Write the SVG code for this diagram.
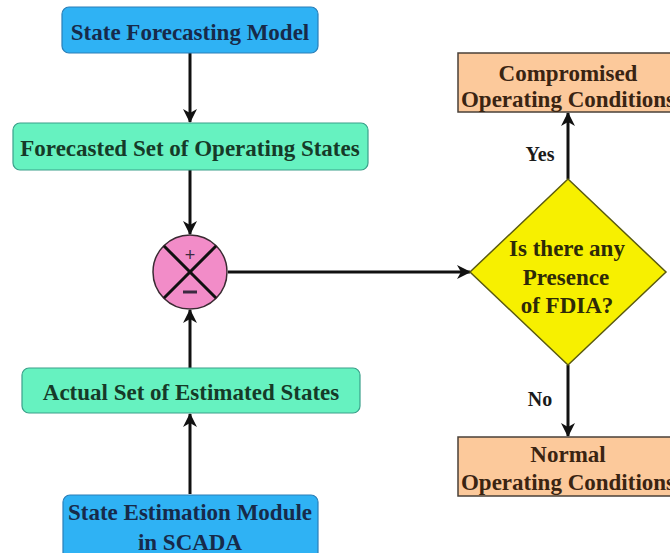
<svg xmlns="http://www.w3.org/2000/svg" width="670" height="553" viewBox="0 0 670 553">
<defs>
<marker id="arr" viewBox="0 0 14 14" refX="13" refY="7" markerWidth="14" markerHeight="14" markerUnits="userSpaceOnUse" orient="auto">
<path d="M0,0 L14,7 L0,14 L4,7 Z" fill="#111"/>
</marker>
<style>
.t{font-family:"Liberation Serif","Times New Roman",serif;font-weight:bold;font-size:23px;text-anchor:middle}
.blue{fill:#2fb2f4;stroke:#2a7fb8;stroke-width:1.2}
.mint{fill:#66f2c0;stroke:#3aa08a;stroke-width:1.2}
.peach{fill:#fcc99b;stroke:#4a4038;stroke-width:1.5}
.c{stroke:#111;stroke-width:3;fill:none}
</style>
</defs>
<rect width="670" height="553" fill="#fff"/>
<g id="connectors">
<line class="c" x1="190" y1="53" x2="190" y2="122" marker-end="url(#arr)"/>
<line class="c" x1="190" y1="170" x2="190" y2="234" marker-end="url(#arr)"/>
<line class="c" x1="190" y1="494" x2="190" y2="414" marker-end="url(#arr)"/>
<line class="c" x1="190" y1="368" x2="190" y2="310" marker-end="url(#arr)"/>
<line class="c" x1="228" y1="272" x2="470" y2="272" marker-end="url(#arr)"/>
<line class="c" x1="568" y1="179" x2="568" y2="113" marker-end="url(#arr)"/>
<line class="c" x1="568" y1="365" x2="568" y2="436" marker-end="url(#arr)"/>
<text class="t" x="540" y="161" fill="#1a1a1a" style="font-size:20px">Yes</text>
<text class="t" x="540" y="406" fill="#1a1a1a" style="font-size:20px">No</text>
</g>
<g id="n1">
<rect class="blue" x="62" y="7" width="256" height="46" rx="7"/>
<text class="t" x="190" y="40" fill="#172a4a">State Forecasting Model</text>
</g>
<g id="n2">
<rect class="mint" x="13" y="123" width="355" height="47" rx="7"/>
<text class="t" x="190" y="156" fill="#163a28">Forecasted Set of Operating States</text>
</g>
<g id="sum">
<circle cx="190" cy="272" r="37" fill="#f28cc8" stroke="#3a2a32" stroke-width="1.5"/>
<line x1="164" y1="246" x2="216" y2="298" stroke="#111" stroke-width="3"/>
<line x1="216" y1="246" x2="164" y2="298" stroke="#111" stroke-width="3"/>
<text x="190" y="261" font-family="Liberation Sans,Arial,sans-serif" font-size="18" text-anchor="middle" fill="#3a2a40">+</text>
<line x1="183" y1="292" x2="197" y2="292" stroke="#3a2a40" stroke-width="3"/>
</g>
<g id="n3">
<rect class="mint" x="22" y="368" width="338" height="45" rx="7"/>
<text class="t" x="191" y="400" fill="#163a28">Actual Set of Estimated States</text>
</g>
<g id="n4">
<rect class="blue" x="63" y="495" width="255" height="70" rx="7"/>
<text class="t" x="190" y="520" fill="#172a4a">State Estimation Module</text>
<text class="t" x="190" y="550" fill="#172a4a">in SCADA</text>
</g>
<g id="dec">
<polygon points="568,179 666,272 568,365 470,272" fill="#f7f000" stroke="#5a5a10" stroke-width="1.5"/>
<text class="t" x="567" y="256" fill="#2e2a08">Is there any</text>
<text class="t" x="566" y="285" fill="#2e2a08">Presence</text>
<text class="t" x="567" y="313" fill="#2e2a08">of FDIA?</text>
</g>
<g id="comp">
<rect class="peach" x="458" y="53" width="222" height="59"/>
<text class="t" x="568" y="81" fill="#3a2412">Compromised</text>
<text class="t" x="568" y="107" fill="#3a2412">Operating Conditions</text>
</g>
<g id="norm">
<rect class="peach" x="458" y="437" width="222" height="59"/>
<text class="t" x="568" y="462" fill="#3a2412">Normal</text>
<text class="t" x="568" y="490" fill="#3a2412">Operating Conditions</text>
</g>
</svg>
